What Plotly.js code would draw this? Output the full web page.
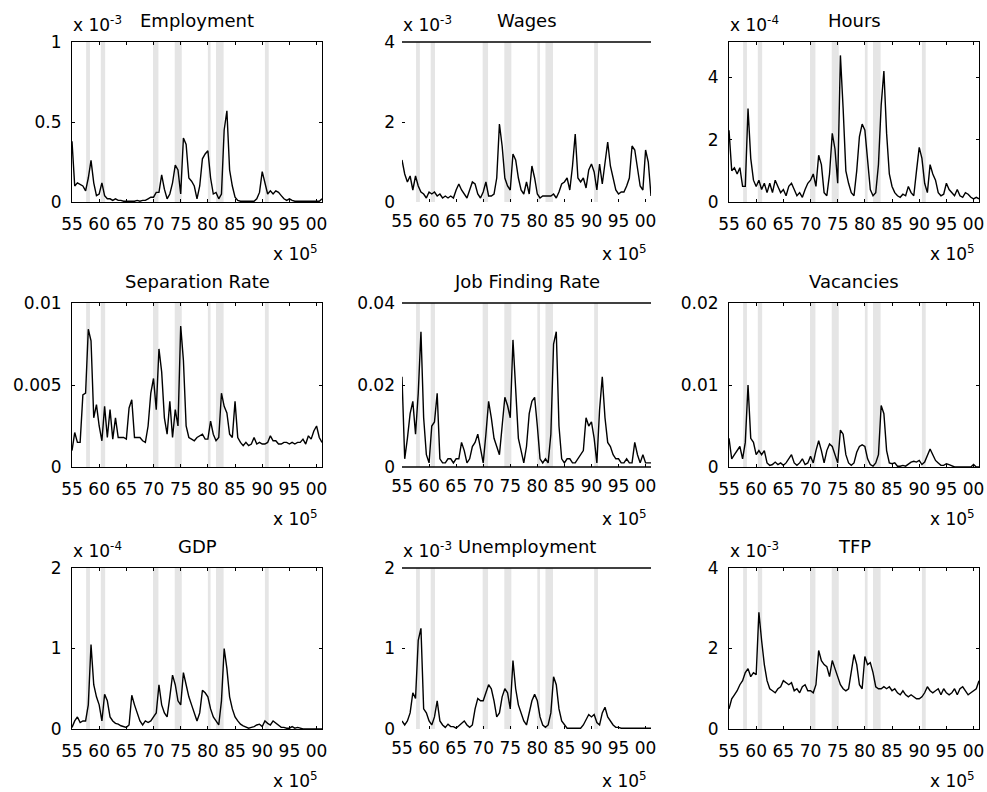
<!DOCTYPE html>
<html>
<head>
<meta charset="utf-8">
<script src="https://cdn.plot.ly/plotly-3.0.1.min.js"></script>
<style>html,body{margin:0;padding:0;background:#fff;}#chart{width:987px;height:792px;}</style>
</head>
<body>
<div id="chart"></div>
<script>
// Half-year observation grid, 1955.0 .. 2001.0
var startYear = 1955, endYear = 2001;
var years = [];
for (var t = startYear; t <= endYear + 1e-9; t += 0.5) years.push(t);

var xTickVals = [1955, 1960, 1965, 1970, 1975, 1980, 1985, 1990, 1995, 2000];
var xTickText = ['55', '60', '65', '70', '75', '80', '85', '90', '95', '00'];

// NBER recessions (shaded)
var recStart = [1957.6, 1960.3, 1969.9, 1973.9, 1980.0, 1981.5, 1990.5];
var recEnd   = [1958.3, 1961.1, 1970.9, 1975.2, 1980.5, 1982.9, 1991.2];

var titles = ['Employment', 'Wages', 'Hours', 'Separation Rate', 'Job Finding Rate', 'Vacancies', 'GDP', 'Unemployment', 'TFP'];
var yExponents = ['-3', '-3', '-4', null, null, null, '-4', '-3', '-3'];

var employment = [
 0.38,0.10, 0.12,0.11, 0.10,0.07, 0.15,0.26, 0.12,0.04,
 0.05,0.12, 0.04,0.02, 0.02,0.01, 0.02,0.01, 0.01,0.005,
 0.005,0.005, 0.005,0.005, 0.01,0.005, 0.01,0.01, 0.02,0.03,
 0.03,0.06, 0.06,0.17, 0.08,0.02, 0.05,0.12, 0.23,0.20,
 0.05,0.40, 0.36,0.15, 0.13,0.10, 0.02,0.10, 0.27,0.30,
 0.32,0.15, 0.05,0.06, 0.02,0.05, 0.45,0.57, 0.20,0.10,
 0.03,0.01, 0.005,0.005, 0.005,0.005, 0.005,0.005, 0.02,0.06,
 0.19,0.12, 0.05,0.07, 0.05,0.07, 0.06,0.04, 0.02,0.01,
 0.02,0.01, 0.005,0.005, 0.005,0.005, 0.005,0.005, 0.005,0.005,
 0.005,0.005, 0.02];

var wages = [
 1.05,0.70, 0.50,0.65, 0.30,0.65, 0.40,0.25, 0.20,0.10,
 0.25,0.20, 0.25,0.15, 0.20,0.10, 0.15,0.10, 0.15,0.10,
 0.30,0.45, 0.30,0.20, 0.10,0.30, 0.50,0.45, 0.20,0.10,
 0.25,0.50, 0.15,0.15, 0.20,0.60, 1.95,1.40, 0.60,0.40,
 0.30,1.20, 1.05,0.60, 0.30,0.20, 0.50,0.20, 0.90,0.60,
 0.20,0.10, 0.15,0.15, 0.15,0.15, 0.20,0.10, 0.25,0.45,
 0.50,0.60, 0.30,0.90, 1.70,0.60, 0.50,0.60, 0.35,0.80,
 0.95,0.75, 0.30,0.95, 0.45,1.00, 1.50,0.90, 0.60,0.30,
 0.20,0.25, 0.25,0.40, 0.60,1.40, 1.30,0.80, 0.40,0.30,
 1.30,1.00, 0.15];

var hours = [
 2.30,1.00, 1.10,0.90, 1.10,0.50, 0.50,3.00, 1.40,0.70,
 0.50,0.70, 0.40,0.60, 0.30,0.60, 0.30,0.70, 0.50,0.30,
 0.40,0.20, 0.50,0.60, 0.40,0.20, 0.30,0.15, 0.40,0.60,
 0.70,0.90, 0.50,1.50, 1.20,0.30, 0.20,0.90, 2.20,1.70,
 0.60,4.70, 3.00,1.00, 0.60,0.30, 0.20,1.00, 2.10,2.50,
 2.30,1.20, 0.40,0.20, 0.30,1.20, 3.10,4.20, 2.20,0.90,
 0.50,0.30, 0.20,0.15, 0.25,0.20, 0.50,0.30, 0.20,1.00,
 1.75,1.40, 0.60,0.30, 1.20,0.90, 0.70,0.30, 0.20,0.25,
 0.60,0.40, 0.30,0.20, 0.40,0.20, 0.15,0.30, 0.25,0.15,
 0.10,0.15, 0.10];

var separation = [
 0.0010,0.0021, 0.0015,0.0015, 0.0044,0.0045, 0.0084,0.0077, 0.0030,0.0038,
 0.0025,0.0016, 0.0037,0.0018, 0.0035,0.0017, 0.0030,0.0018, 0.0018,0.0018,
 0.0017,0.0036, 0.0041,0.0018, 0.0018,0.0018, 0.0016,0.0015, 0.0025,0.0045,
 0.0054,0.0035, 0.0072,0.0058, 0.0030,0.0020, 0.0040,0.0018, 0.0035,0.0025,
 0.0086,0.0065, 0.0025,0.0018, 0.0017,0.0016, 0.0018,0.0019, 0.0020,0.0017,
 0.0017,0.0028, 0.0020,0.0016, 0.0018,0.0045, 0.0037,0.0033, 0.0020,0.0018,
 0.0040,0.0018, 0.0015,0.0013, 0.0015,0.0013, 0.0014,0.0018, 0.0014,0.0015,
 0.0014,0.0014, 0.0015,0.0019, 0.0016,0.0016, 0.0014,0.0014, 0.0015,0.0015,
 0.0014,0.0015, 0.0014,0.0015, 0.0015,0.0017, 0.0014,0.0019, 0.0017,0.0022,
 0.0025,0.0018, 0.0015];

var jobFinding = [
 0.022,0.002, 0.007,0.013, 0.016,0.008, 0.018,0.033, 0.012,0.003,
 0.001,0.010, 0.011,0.018, 0.002,0.001, 0.001,0.002, 0.002,0.001,
 0.002,0.002, 0.006,0.004, 0.001,0.002, 0.005,0.006, 0.008,0.004,
 0.001,0.008, 0.016,0.012, 0.007,0.005, 0.003,0.010, 0.017,0.015,
 0.012,0.031, 0.020,0.007, 0.004,0.001, 0.005,0.013, 0.016,0.017,
 0.010,0.002, 0.001,0.002, 0.001,0.008, 0.030,0.033, 0.010,0.002,
 0.001,0.002, 0.002,0.001, 0.001,0.002, 0.003,0.004, 0.012,0.010,
 0.011,0.007, 0.001,0.014, 0.022,0.012, 0.006,0.005, 0.003,0.002,
 0.002,0.001, 0.001,0.002, 0.001,0.001, 0.006,0.003, 0.001,0.003,
 0.001,0.001, 0.001];

var vacancies = [
 0.0035,0.0010, 0.0015,0.0020, 0.0025,0.0010, 0.0030,0.0100, 0.0035,0.0030,
 0.0015,0.0020, 0.0015,0.0020, 0.0005,0.0002, 0.0003,0.0006, 0.0003,0.0005,
 0.0002,0.0005, 0.0010,0.0015, 0.0005,0.0002, 0.0005,0.0010, 0.0003,0.0005,
 0.0013,0.0005, 0.0020,0.0032, 0.0020,0.0005, 0.0020,0.0028, 0.0025,0.0015,
 0.0005,0.0045, 0.0040,0.0015, 0.0005,0.0002, 0.0005,0.0018, 0.0025,0.0027,
 0.0025,0.0010, 0.0003,0.0001, 0.0005,0.0015, 0.0075,0.0065, 0.0020,0.0005,
 0.0004,0.0005, 0.0001,0.0001, 0.0002,0.0001, 0.0004,0.0006, 0.0007,0.0006,
 0.0008,0.0003, 0.0006,0.0013, 0.0022,0.0015, 0.0008,0.0005, 0.0002,0.0002,
 0.0004,0.0003, 0.0001,0.0000, 0.0000,0.0000, 0.0000,0.0000, 0.0000,0.0000,
 0.0003,0.0000, 0.0000];

var gdp = [
 0.02,0.10, 0.15,0.08, 0.10,0.10, 0.30,1.05, 0.55,0.40,
 0.30,0.10, 0.43,0.35, 0.15,0.10, 0.07,0.06, 0.04,0.03,
 0.02,0.05, 0.42,0.30, 0.20,0.10, 0.05,0.10, 0.08,0.10,
 0.15,0.20, 0.55,0.30, 0.20,0.15, 0.40,0.67, 0.55,0.35,
 0.30,0.70, 0.55,0.40, 0.30,0.20, 0.10,0.20, 0.48,0.45,
 0.40,0.25, 0.15,0.10, 0.05,0.35, 1.00,0.75, 0.40,0.25,
 0.15,0.10, 0.06,0.04, 0.02,0.01, 0.02,0.03, 0.05,0.06,
 0.03,0.10, 0.07,0.05, 0.10,0.07, 0.04,0.02, 0.02,0.01,
 0.01,0.03, 0.01,0.02, 0.01,0.00, 0.00,0.00, 0.00,0.00,
 0.00,0.00, 0.00];

var unemployment = [
 0.10,0.05, 0.10,0.20, 0.45,0.38, 1.10,1.25, 0.25,0.20,
 0.10,0.05, 0.15,0.35, 0.10,0.05, 0.02,0.06, 0.03,0.03,
 0.01,0.04, 0.08,0.10, 0.05,0.02, 0.05,0.25, 0.38,0.35,
 0.35,0.45, 0.55,0.50, 0.35,0.15, 0.20,0.40, 0.50,0.45,
 0.25,0.85, 0.50,0.30, 0.20,0.10, 0.05,0.20, 0.35,0.43,
 0.35,0.15, 0.05,0.02, 0.05,0.20, 0.65,0.55, 0.25,0.10,
 0.05,0.01, 0.01,0.01, 0.01,0.01, 0.01,0.05, 0.12,0.18,
 0.15,0.18, 0.08,0.05, 0.20,0.27, 0.15,0.10, 0.05,0.02,
 0.02,0.01, 0.01,0.01, 0.01,0.01, 0.01,0.01, 0.01,0.01,
 0.01,0.01, 0.01];

var tfp = [
 0.50,0.75, 0.85,0.95, 1.10,1.20, 1.40,1.50, 1.30,1.40,
 1.35,2.90, 2.20,1.60, 1.20,1.00, 0.95,0.90, 1.00,1.05,
 1.20,1.15, 1.10,1.15, 0.95,1.00, 0.90,1.05, 1.10,0.95,
 0.95,0.90, 1.10,1.95, 1.70,1.60, 1.55,1.30, 1.70,1.50,
 1.30,1.10, 1.00,0.95, 1.00,1.40, 1.85,1.60, 1.10,1.00,
 1.80,1.60, 1.65,1.40, 1.05,1.00, 1.00,1.05, 1.00,1.05,
 0.95,1.00, 0.90,0.85, 0.95,0.85, 0.80,0.85, 0.80,0.75,
 0.75,0.80, 0.90,1.05, 0.95,0.90, 0.95,1.00, 0.85,1.00,
 0.90,0.85, 0.90,1.00, 0.85,1.00, 1.05,0.95, 0.85,0.90,
 0.95,1.00, 1.20];

var series = [employment, wages, hours, separation, jobFinding, vacancies, gdp, unemployment, tfp];

var yRanges = [[0,1],[0,4],[0,5.13],[0,0.01],[0,0.04],[0,0.02],[0,2],[0,2],[0,4]];
var yTickVals = [[0,0.5,1],[0,2,4],[0,2,4],[0,0.005,0.01],[0,0.02,0.04],[0,0.01,0.02],[0,1,2],[0,1,2],[0,2,4]];
var yTickText = [['0','0.5','1'],['0','2','4'],['0','2','4'],['0','0.005','0.01'],['0','0.02','0.04'],['0','0.01','0.02'],['0','1','2'],['0','1','2'],['0','2','4']];

// ---- layout geometry (pixels) ----
var W = 987, H = 792;
var colPx = [[72,322],[402,651],[729,979]];
var rowPx = [[42,202],[303,467],[568,729]];
function fx(p){ return p / W; }
function fy(p){ return 1 - p / H; }

var FONT = 'DejaVu Sans, Liberation Sans, Arial, sans-serif';
var traces = [];
var layout = {
  width: W, height: H,
  margin: {l:0, r:0, t:0, b:0},
  paper_bgcolor: '#ffffff', plot_bgcolor: '#ffffff',
  showlegend: false,
  font: {family: FONT, size: 17, color: '#000'},
  shapes: [], annotations: []
};

for (var i = 0; i < 9; i++) {
  var r = Math.floor(i / 3), c = i % 3, n = i + 1;
  var xa = n === 1 ? 'x' : 'x' + n, ya = n === 1 ? 'y' : 'y' + n;
  var xk = n === 1 ? 'xaxis' : 'xaxis' + n, yk = n === 1 ? 'yaxis' : 'yaxis' + n;
  var boxed = (c !== 1);
  traces.push({
    x: years, y: series[i], xaxis: xa, yaxis: ya,
    type: 'scatter', mode: 'lines',
    line: {color: '#000', width: 1.4},
    hoverinfo: 'skip'
  });
  layout[xk] = {
    domain: [fx(colPx[c][0]), fx(colPx[c][1])], anchor: ya,
    range: [startYear, endYear], tickvals: xTickVals, ticktext: xTickText,
    tickangle: 0, ticks: 'inside', ticklen: 3, tickcolor: '#000',
    showgrid: false, zeroline: false,
    showline: boxed, mirror: boxed ? 'ticks' : false, linecolor: '#000', linewidth: 1,
    tickfont: {family: FONT, size: 17, color: '#000'}, ticklabelstandoff: 7,
    fixedrange: true
  };
  layout[yk] = {
    domain: [fy(rowPx[r][1]), fy(rowPx[r][0])], anchor: xa,
    range: yRanges[i], tickvals: yTickVals[i], ticktext: yTickText[i],
    ticks: 'inside', ticklen: 3, tickcolor: '#000',
    showgrid: false, zeroline: false,
    showline: boxed, mirror: boxed ? 'ticks' : false, linecolor: '#000', linewidth: 1,
    tickfont: {family: FONT, size: 17, color: '#000'}, ticklabelstandoff: 6,
    fixedrange: true
  };
  // recession shading
  for (var k = 0; k < recStart.length; k++) {
    layout.shapes.push({
      type: 'rect', xref: xa, yref: ya + ' domain',
      x0: recStart[k], x1: recEnd[k], y0: 0, y1: 1,
      fillcolor: '#e5e5e5', line: {width: 0}, layer: 'below'
    });
  }
  // middle column: only horizontal rules
  if (!boxed) {
    layout.shapes.push({type:'line', xref:'paper', yref:'paper',
      x0: fx(colPx[c][0]), x1: fx(colPx[c][1]), y0: fy(rowPx[r][0]), y1: fy(rowPx[r][0]),
      line:{color:'#000', width:1.5}});
    if (i === 4) {
      layout.shapes.push({type:'line', xref:'paper', yref:'paper',
        x0: fx(colPx[c][0]), x1: fx(colPx[c][1]), y0: fy(rowPx[r][1]), y1: fy(rowPx[r][1]),
        line:{color:'#000', width:1.5}});
    }
  }
  // title
  layout.annotations.push({
    text: titles[i], xref: 'paper', yref: 'paper',
    x: fx((colPx[c][0] + colPx[c][1]) / 2), y: fy(rowPx[r][0] - 9),
    xanchor: 'center', yanchor: 'bottom', showarrow: false,
    font: {family: FONT, size: 18, color: '#000'}
  });
  // y exponent
  if (yExponents[i]) {
    layout.annotations.push({
      text: 'x 10<sup>' + yExponents[i] + '</sup>', xref: 'paper', yref: 'paper',
      x: fx(colPx[c][0] - 1), y: fy(rowPx[r][0] - 5),
      xanchor: 'left', yanchor: 'bottom', showarrow: false,
      font: {family: FONT, size: 17, color: '#000'}
    });
  }
  // x exponent
  layout.annotations.push({
    text: 'x 10<sup>5</sup>', xref: 'paper', yref: 'paper',
    x: fx(colPx[c][1] - 2), y: fy(rowPx[r][1] + 38),
    xanchor: 'right', yanchor: 'top', showarrow: false,
    font: {family: FONT, size: 17, color: '#000'}
  });
}

Plotly.newPlot('chart', traces, layout, {staticPlot: true, displayModeBar: false});
</script>
</body>
</html>
